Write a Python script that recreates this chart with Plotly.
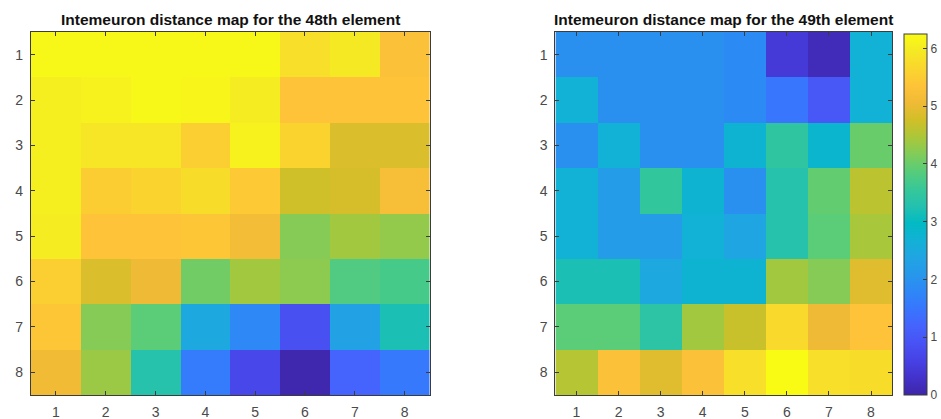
import plotly.graph_objects as go

cols = [1, 2, 3, 4, 5, 6, 7, 8]
rows = [1, 2, 3, 4, 5, 6, 7, 8]

map48 = [
    [6.20, 6.20, 6.20, 6.20, 6.20, 5.80, 5.95, 5.30],
    [6.05, 6.10, 6.20, 6.15, 6.00, 5.35, 5.35, 5.35],
    [6.05, 5.90, 5.90, 5.55, 6.10, 5.60, 4.85, 4.85],
    [6.05, 5.50, 5.60, 5.75, 5.45, 4.75, 4.80, 5.20],
    [6.00, 5.35, 5.35, 5.40, 5.15, 4.20, 4.40, 4.30],
    [5.55, 4.85, 5.05, 4.05, 4.40, 4.25, 3.80, 3.70],
    [5.40, 4.20, 3.90, 2.45, 1.80, 0.85, 2.30, 3.20],
    [5.10, 4.35, 3.30, 1.60, 0.70, 0.05, 1.20, 1.55],
]

map49 = [
    [1.95, 1.95, 1.95, 1.95, 1.85, 0.45, 0.15, 2.70],
    [2.70, 1.95, 1.95, 1.95, 1.85, 1.50, 1.00, 2.70],
    [1.95, 2.70, 1.95, 1.95, 2.75, 3.45, 2.80, 4.00],
    [2.70, 2.20, 3.50, 2.75, 1.95, 3.30, 3.95, 4.60],
    [2.70, 2.20, 2.20, 2.70, 2.40, 3.30, 3.90, 4.45],
    [3.20, 3.20, 2.45, 2.75, 2.75, 4.40, 4.20, 4.90],
    [3.90, 3.90, 3.40, 4.40, 4.70, 5.70, 5.05, 5.35],
    [4.55, 5.30, 4.90, 5.30, 5.80, 6.25, 5.80, 5.75],
]

titles = ["Intemeuron distance map for the 48th element",
          "Intemeuron distance map for the 49th element"]
cbar_ticks = [0, 1, 2, 3, 4, 5, 6]

parula = [
    (0.2422, 0.1504, 0.6603), (0.2647, 0.1978, 0.7952), (0.2783, 0.2559, 0.8991),
    (0.2810, 0.3228, 0.9579), (0.2699, 0.3892, 0.9906), (0.2206, 0.4603, 0.9973),
    (0.1786, 0.5289, 0.9682), (0.1540, 0.5902, 0.9218), (0.1248, 0.6459, 0.8883),
    (0.0689, 0.6948, 0.8394), (0.0067, 0.7312, 0.7660), (0.1408, 0.7584, 0.6842),
    (0.2161, 0.7843, 0.5923), (0.3406, 0.8008, 0.4789), (0.5044, 0.7993, 0.3480),
    (0.6720, 0.7793, 0.2227), (0.8203, 0.7498, 0.1535), (0.9393, 0.7288, 0.2100),
    (0.9970, 0.7659, 0.2199), (0.9786, 0.8386, 0.1766), (0.9597, 0.9135, 0.1423),
    (0.9769, 0.9839, 0.0805),
]
n = len(parula)
colorscale = [[i / (n - 1), "rgb(%d,%d,%d)" % tuple(round(c * 255) for c in p)]
              for i, p in enumerate(parula)]

zmin, zmax = 0, 6.25

W, H = 941, 419

def px_x(a, b):
    return [a / W, b / W]

def px_y(top, bottom):
    return [(H - bottom) / H, (H - top) / H]

def fx(a):
    return a / W

def fy(t):
    return (H - t) / H

FONT = "Liberation Sans, Arial"
TICK_GRAY = "#4a4a4a"
LINE_GRAY = "#3c3c3c"

fig = go.Figure()
fig.add_trace(go.Heatmap(
    z=map48, x=cols, y=rows, colorscale=colorscale, zmin=zmin, zmax=zmax,
    showscale=False, xaxis="x", yaxis="y"))
fig.add_trace(go.Heatmap(
    z=map49, x=cols, y=rows, colorscale=colorscale, zmin=zmin, zmax=zmax,
    xaxis="x2", yaxis="y2",
    colorbar=dict(
        x=fx(904), xanchor="left", y=fy(395), yanchor="bottom",
        len=361 / H, lenmode="fraction", thickness=23, thicknessmode="pixels",
        outlinecolor=LINE_GRAY, outlinewidth=1,
        tickvals=cbar_ticks, ticks="inside", ticklen=4, tickcolor=LINE_GRAY,
        tickfont=dict(family=FONT, size=12, color=TICK_GRAY),
        xpad=0, ypad=0)))

axis_common = dict(
    showline=True, linecolor=LINE_GRAY, linewidth=1, mirror="ticks",
    ticks="inside", ticklen=4, tickcolor=LINE_GRAY, showgrid=False,
    zeroline=False, tickmode="array", tickvals=cols,
    tickfont=dict(family=FONT, size=14, color=TICK_GRAY),
)

fig.update_layout(
    width=W, height=H, margin=dict(l=0, r=0, t=0, b=0),
    paper_bgcolor="white", plot_bgcolor="white",
    xaxis=dict(domain=px_x(31, 430), anchor="y", range=[0.5, 8.5],
               ticklabelstandoff=4, **axis_common),
    yaxis=dict(domain=px_y(32, 395), anchor="x", range=[8.5, 0.5],
               ticklabelstandoff=4, **axis_common),
    xaxis2=dict(domain=px_x(556, 893), anchor="y2", range=[0.5, 8.5],
                ticklabelstandoff=4, **axis_common),
    yaxis2=dict(domain=px_y(32, 395), anchor="x2", range=[8.5, 0.5],
                ticklabelstandoff=4, **axis_common),
    annotations=[
        dict(text="<b>%s</b>" % titles[0], x=fx((31 + 430) / 2), y=fy(20),
             xanchor="center", yanchor="middle",
             xref="paper", yref="paper", showarrow=False,
             font=dict(family=FONT, size=15.5, color="#111111")),
        dict(text="<b>%s</b>" % titles[1], x=fx((556 + 893) / 2), y=fy(20),
             xanchor="center", yanchor="middle",
             xref="paper", yref="paper", showarrow=False,
             font=dict(family=FONT, size=15.5, color="#111111")),
    ],
)

# Remove the browser's default 8px body margin so the figure fills the window.
fig.write_html("out.html",
               config={"displayModeBar": False},
               post_script="document.body.style.margin='0';")
